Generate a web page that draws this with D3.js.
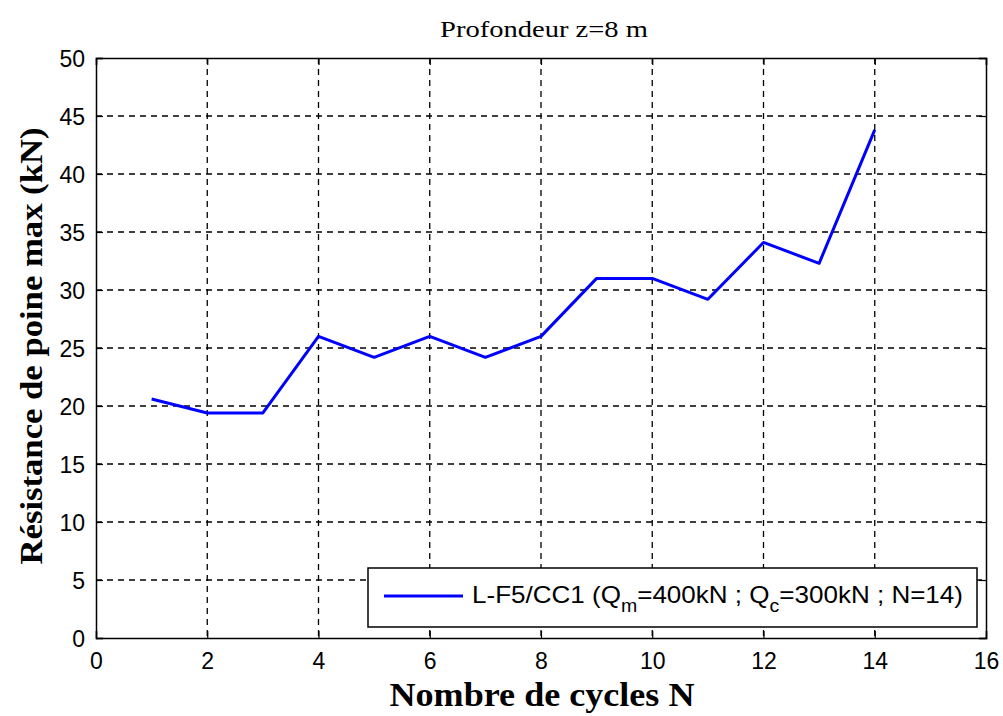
<!DOCTYPE html>
<html><head><meta charset="utf-8">
<script src="https://cdn.jsdelivr.net/npm/d3@7"></script>
<style>body{margin:0;background:#fff}</style>
</head><body>
<svg id="c" width="1003" height="716"></svg>
<script>
const cycles = [1,2,3,4,5,6,7,8,9,10,11,12,13,14];
const resistance = [20.6,19.4,19.4,26.0,24.2,26.0,24.2,26.0,31.0,31.0,29.2,34.1,32.3,43.8];
const xTicks = [0,2,4,6,8,10,12,14,16];
const yTicks = [0,5,10,15,20,25,30,35,40,45,50];
const title = "Profondeur z=8 m";
const xLabel = "Nombre de cycles N";
const yLabel = "Résistance de poine max (kN)";

const svg = d3.select("#c");
const m = {l:96, r:986, t:58, b:638};
const x = d3.scaleLinear().domain([0,16]).range([m.l,m.r]);
const y = d3.scaleLinear().domain([0,50]).range([m.b,m.t]);
const tickFont = '"Liberation Sans",Arial,sans-serif';
const serif = '"Liberation Serif","Times New Roman",serif';

svg.append("rect").attr("x",m.l).attr("y",m.t).attr("width",m.r-m.l).attr("height",m.b-m.t).attr("fill","#fff");

// grid
const g = svg.append("g");
g.selectAll(".gx").data(xTicks.filter(d=>d>0&&d<16)).join("line")
  .attr("x1",d=>x(d)).attr("x2",d=>x(d)).attr("y1",m.t).attr("y2",m.b)
  .attr("stroke","#000").attr("stroke-width",1.3).attr("stroke-dasharray","6,5");
g.selectAll(".gy").data(yTicks.filter(d=>d>0&&d<50)).join("line")
  .attr("x1",m.l).attr("x2",m.r).attr("y1",d=>y(d)).attr("y2",d=>y(d))
  .attr("stroke","#000").attr("stroke-width",1.3).attr("stroke-dasharray","6,5");

// axes
const xa = svg.append("g").attr("transform",`translate(0,${m.b})`)
  .call(d3.axisBottom(x).tickValues(xTicks).tickSize(-7).tickPadding(14));
const xa2 = svg.append("g").attr("transform",`translate(0,${m.t})`)
  .call(d3.axisTop(x).tickValues(xTicks).tickSize(-7).tickFormat(""));
const ya = svg.append("g").attr("transform",`translate(${m.l},0)`)
  .call(d3.axisLeft(y).tickValues(yTicks).tickSize(-7).tickPadding(11));
const ya2 = svg.append("g").attr("transform",`translate(${m.r},0)`)
  .call(d3.axisRight(y).tickValues(yTicks).tickSize(-7).tickFormat(""));
[xa,xa2,ya,ya2].forEach(a=>{
  a.select(".domain").attr("stroke","#000").attr("stroke-width",1.5);
  a.selectAll(".tick line").attr("stroke","#000").attr("stroke-width",1.2);
  a.selectAll("text").attr("font-family",tickFont).attr("font-size",23).attr("fill","#000");
});
ya.selectAll("text").attr("dy","0.36em");
xa.selectAll("text").attr("dy","0.75em");

// line
svg.append("path").datum(cycles.map((c,i)=>[c,resistance[i]]))
  .attr("d",d3.line().x(d=>x(d[0])).y(d=>y(d[1])))
  .attr("fill","none").attr("stroke","#0000ff").attr("stroke-width",3).attr("stroke-linejoin","round");

// title & labels
svg.append("text").attr("x",(m.l+m.r)/2+3).attr("y",37).attr("text-anchor","middle")
  .attr("font-family",serif).attr("font-size",24)
  .attr("textLength",208).attr("lengthAdjust","spacingAndGlyphs").text(title);
svg.append("text").attr("x",542).attr("y",706).attr("text-anchor","middle")
  .attr("font-family",serif).attr("font-weight","bold").attr("font-size",33)
  .attr("textLength",305).attr("lengthAdjust","spacingAndGlyphs").text(xLabel);
svg.append("text").attr("transform",`translate(42,346) rotate(-90)`).attr("text-anchor","middle")
  .attr("font-family",serif).attr("font-weight","bold").attr("font-size",31)
  .attr("textLength",437).attr("lengthAdjust","spacingAndGlyphs").text(yLabel);

// legend
const lg = svg.append("g");
lg.append("rect").attr("x",368).attr("y",568).attr("width",609).attr("height",59)
  .attr("fill","#fff").attr("stroke","#000").attr("stroke-width",1.5);
lg.append("line").attr("x1",384).attr("x2",463).attr("y1",596).attr("y2",596)
  .attr("stroke","#0000ff").attr("stroke-width",3);
const lt = lg.append("text").attr("x",472).attr("y",603).attr("font-family",tickFont).attr("font-size",24)
  .attr("textLength",491).attr("lengthAdjust","spacingAndGlyphs");
lt.append("tspan").text("L-F5/CC1 (Q");
lt.append("tspan").attr("dy",9).attr("font-size",18).text("m");
lt.append("tspan").attr("dy",-9).text("=400kN ; Q");
lt.append("tspan").attr("dy",9).attr("font-size",18).text("c");
lt.append("tspan").attr("dy",-9).text("=300kN ; N=14)");
</script>
</body></html>
